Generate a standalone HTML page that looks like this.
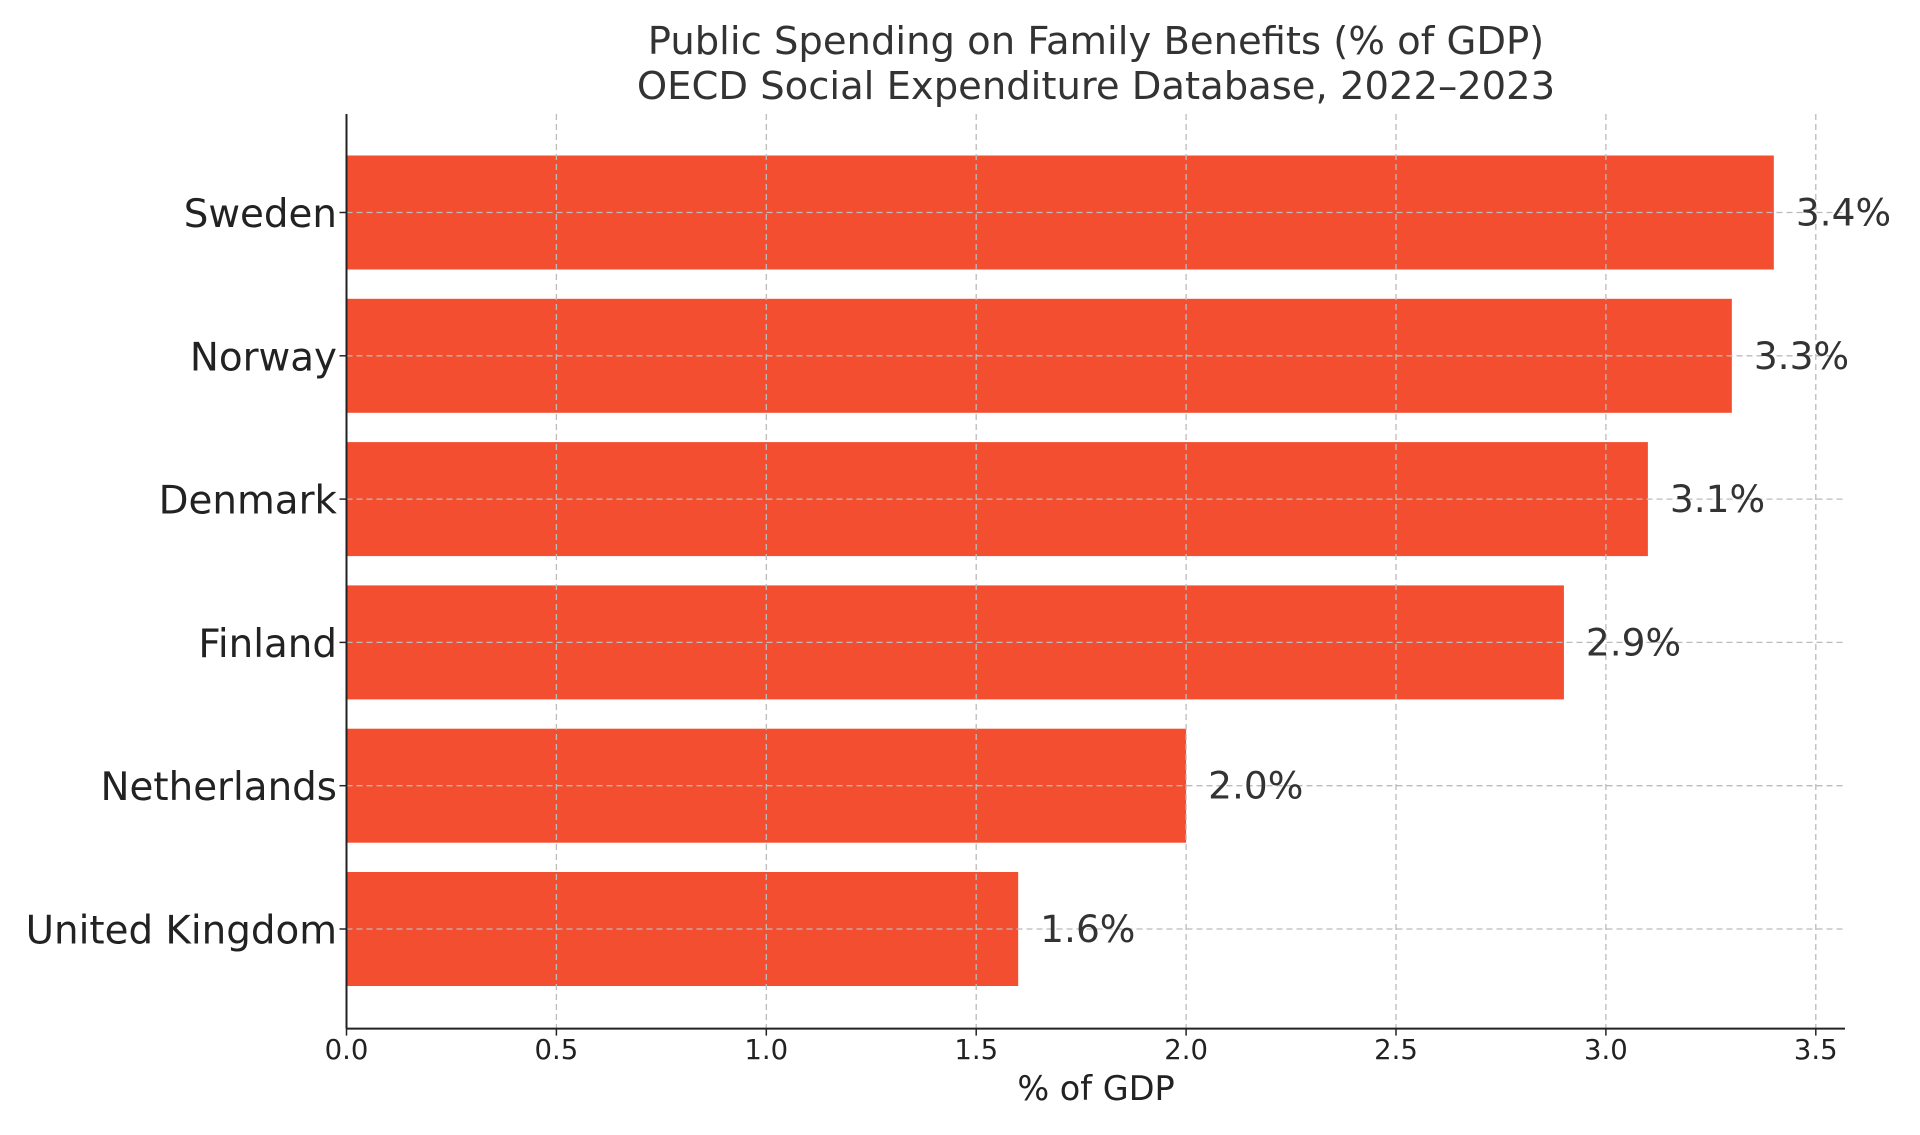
<!DOCTYPE html>
<html><head><meta charset="utf-8"><style>
body{margin:0;background:#fff;}
svg{display:block;font-family:"DejaVu Sans","Liberation Sans",sans-serif;}
</style></head><body>
<svg id="chart" width="1920" height="1135" xmlns="http://www.w3.org/2000/svg">
<text x="1096" y="54" text-anchor="middle" font-size="38.5" fill="#333">Public Spending on Family Benefits (% of GDP)</text>
<text x="1096" y="99" text-anchor="middle" font-size="38.5" fill="#333">OECD Social Expenditure Database, 2022–2023</text>
<g id="bars"></g><g id="grid"></g><g id="labels"></g><g id="axes"></g>
</svg>
<script>
const categories = ["Sweden","Norway","Denmark","Finland","Netherlands","United Kingdom"];
const values = [3.4,3.3,3.1,2.9,2.0,1.6];
const valueLabels = ["3.4%","3.3%","3.1%","2.9%","2.0%","1.6%"];
const xTicks = [0,0.5,1.0,1.5,2.0,2.5,3.0,3.5];
const xTickLabels = ["0.0","0.5","1.0","1.5","2.0","2.5","3.0","3.5"];

const NS="http://www.w3.org/2000/svg";
const L=346.5,R=1845,T=114,B=1028.6;
const xScale=v=>L+v*419.8;
const yScale=i=>212.5+i*143.3;
const bh=114;
function mk(tag,attrs,parent,txt){const e=document.createElementNS(NS,tag);for(const k in attrs)e.setAttribute(k,attrs[k]);if(txt!==undefined)e.textContent=txt;parent.appendChild(e);return e;}
const gBars=document.getElementById('bars'),gGrid=document.getElementById('grid'),gLab=document.getElementById('labels'),gAx=document.getElementById('axes');

categories.forEach((c,i)=>{
  const r=mk('rect',{x:L,y:yScale(i)-bh/2,width:xScale(values[i])-L,height:bh,fill:'#F44E30'},gBars);
  
  
  const g=mk('line',{x1:L,x2:R,y1:yScale(i),y2:yScale(i),stroke:'#bbb','stroke-width':1.3,'stroke-dasharray':'6,4'},gGrid);
  
  
  const v=mk('text',{x:xScale(values[i])+22,y:yScale(i),'font-size':37.5,fill:'#333','dominant-baseline':'central'},gLab,valueLabels[i]);
  
  
  const t=mk('text',{x:337,y:yScale(i)+2,'font-size':38.8,fill:'#222','text-anchor':'end','dominant-baseline':'central'},gAx,c);
  
  
  mk('line',{x1:L-7,x2:L,y1:yScale(i),y2:yScale(i),stroke:'#222','stroke-width':1.5},gAx);
});
xTicks.forEach((v,i)=>{
  const g=mk('line',{x1:xScale(v),x2:xScale(v),y1:T,y2:B,stroke:'#bbb','stroke-width':1.3,'stroke-dasharray':'6,4'},gGrid);
  
  
  mk('line',{x1:xScale(v),x2:xScale(v),y1:B,y2:B+7,stroke:'#222','stroke-width':1.5},gAx);
  const t=mk('text',{x:xScale(v),y:1059,'font-size':27.5,fill:'#222','text-anchor':'middle'},gAx,xTickLabels[i]);
  
  
});
const ax1=mk('line',{x1:L,x2:R,y1:B,y2:B,stroke:'#222','stroke-width':2},gAx);


const ax2=mk('line',{x1:L,x2:L,y1:T,y2:B,stroke:'#222','stroke-width':2},gAx);


const xl=mk('text',{x:1096,y:1100,'font-size':33.5,fill:'#222','text-anchor':'middle'},gAx,'% of GDP');


</script>
</body></html>
